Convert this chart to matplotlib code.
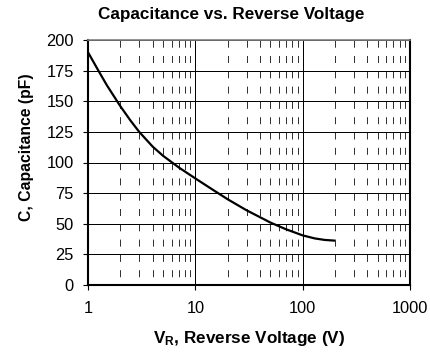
import matplotlib

matplotlib.use("Agg")
import matplotlib.pyplot as plt
from matplotlib.ticker import FixedLocator, LogLocator, NullFormatter

# reverse voltage (V) and junction capacitance (pF)
VOLTAGE = [1, 1.25, 1.5, 2, 2.5, 3, 4, 5, 7, 10, 15, 20, 30, 50, 70, 100, 130, 160, 200]
CAPACITANCE = [190, 175, 163, 146, 134, 125, 113, 105.5, 96, 87, 77, 70, 61, 51, 45.5,
               40.5, 38, 36.8, 36.2]

Y_TICKS = [0, 25, 50, 75, 100, 125, 150, 175, 200]
X_TICKS = [1, 10, 100, 1000]
X_TICK_LABELS = ["1", "10", "100", "1000"]

plt.rcParams["font.family"] = ["Liberation Sans", "DejaVu Sans"]
plt.rcParams["mathtext.fontset"] = "custom"
plt.rcParams["mathtext.bf"] = "Liberation Sans:bold"
plt.rcParams["mathtext.rm"] = "Liberation Sans"

W, H, DPI = 430, 353, 100
fig = plt.figure(figsize=(W / DPI, H / DPI), dpi=DPI)
L, R, T, B = 88, 410, 40, 285
ax = fig.add_axes([L / W, 1 - B / H, (R - L) / W, (B - T) / H])

ax.plot(VOLTAGE, CAPACITANCE, color="black", lw=1.6, solid_capstyle="butt", zorder=3)

ax.set_xscale("log")
ax.set_xlim(1, 1000)
ax.set_ylim(0, 200)
ax.xaxis.set_major_locator(FixedLocator(X_TICKS))
ax.set_xticklabels(X_TICK_LABELS)
ax.xaxis.set_minor_locator(LogLocator(base=10, subs=range(2, 10)))
ax.xaxis.set_minor_formatter(NullFormatter())
ax.set_yticks(Y_TICKS)

# solid major grid, dashed decade subdivisions
ax.grid(which="major", axis="both", color="black", lw=0.72, ls="-", zorder=1)
ax.grid(which="minor", axis="x", color="#333333", lw=0.72, ls=(7, (7, 8.3)), zorder=1)
ax.tick_params(which="minor", length=0)
ax.tick_params(which="major", direction="out", length=3.6, width=0.8,
               labelsize=11.8)
ax.tick_params(axis="y", pad=6.5)
ax.tick_params(axis="x", pad=8)
ax.set_axisbelow(True)

for side in ("left", "bottom", "right"):
    ax.spines[side].set_linewidth(1.5)
    ax.spines[side].set_color("black")
ax.spines["top"].set_linewidth(1.2)
ax.spines["top"].set_color("#808080")

ax.set_title("Capacitance vs. Reverse Voltage", fontsize=12.3, fontweight="bold",
             x=(231 - L) / (R - L), y=(B - 14.5) / (B - T), va="center", pad=0)
ax.set_xlabel(r"$\mathbf{V_R}$, Reverse Voltage (V)", fontsize=12.3, fontweight="bold",
              va="center")
ax.xaxis.set_label_coords(0.5, (B - 339) / (B - T))
ax.set_ylabel("C, Capacitance (pF)", fontsize=11.3, fontweight="bold", va="center",
              family=["Liberation Sans Narrow", "Liberation Sans"])
ax.yaxis.set_label_coords((26 - L) / (R - L), (B - 147) / (B - T))

fig.savefig("out.png", dpi=DPI)
